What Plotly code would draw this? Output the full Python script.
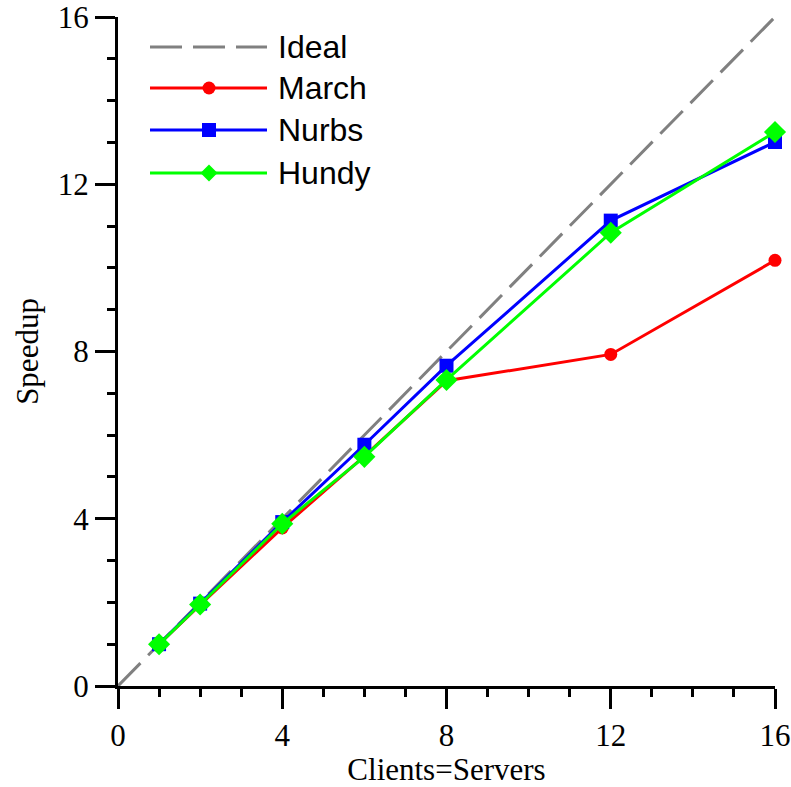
import plotly.graph_objects as go

clients = [1, 2, 4, 6, 8, 12, 16]
march = [1.0, 1.94, 3.78, 5.5, 7.3, 7.93, 10.18]
nurbs = [1.0, 1.97, 3.92, 5.77, 7.66, 11.13, 13.01]
hundy = [1.0, 1.95, 3.88, 5.48, 7.32, 10.84, 13.25]
ideal_x = [0, 16]
ideal_y = [0, 16]
series_names = ["Ideal", "March", "Nurbs", "Hundy"]
x_ticks = [0, 4, 8, 12, 16]
y_ticks = [0, 4, 8, 12, 16]

W, H = 791, 787
L, R, T, B = 118, 16, 17, 101
pw, ph = W - L - R, H - T - B

serif = "Liberation Serif"
sans = "Liberation Sans"

fig = go.Figure()
fig.add_trace(go.Scatter(x=ideal_x, y=ideal_y, mode="lines",
                         line=dict(color="#808080", width=3, dash="32px,11px"),
                         showlegend=False, cliponaxis=False))
fig.add_trace(go.Scatter(x=clients, y=march, mode="lines+markers",
                         line=dict(color="#ff0000", width=3),
                         marker=dict(symbol="circle", size=13, color="#ff0000"),
                         showlegend=False, cliponaxis=False))
fig.add_trace(go.Scatter(x=clients, y=nurbs, mode="lines+markers",
                         line=dict(color="#0000ff", width=3),
                         marker=dict(symbol="square", size=14, color="#0000ff"),
                         showlegend=False, cliponaxis=False))
fig.add_trace(go.Scatter(x=clients, y=hundy, mode="lines+markers",
                         line=dict(color="#00ff00", width=3),
                         marker=dict(symbol="diamond", size=17, color="#00ff00"),
                         showlegend=False, cliponaxis=False))

# custom legend (long sample lines like the reference); positions given in page pixels
def px_x(p):
    return (p - L) / pw

def px_y(p):
    return (H - B - p) / ph

rows = [47, 88, 130, 173]
colors = ["#808080", "#ff0000", "#0000ff", "#00ff00"]
shapes = []
annotations = []
lx0, lx1, mx, tx = px_x(150), px_x(267), px_x(209), px_x(276)
for i, (name, col, ry) in enumerate(zip(series_names, colors, rows)):
    yy = px_y(ry)
    shapes.append(dict(type="line", xref="paper", yref="paper", x0=lx0, x1=lx1, y0=yy, y1=yy,
                       line=dict(color=col, width=3, dash="32px,11px" if i == 0 else "solid")))
    if i == 1:
        shapes.append(dict(type="circle", xref="paper", yref="paper", xsizemode="pixel", ysizemode="pixel",
                           xanchor=mx, yanchor=yy, x0=-6.5, x1=6.5, y0=-6.5, y1=6.5,
                           fillcolor=col, line=dict(width=0)))
    elif i == 2:
        shapes.append(dict(type="rect", xref="paper", yref="paper", xsizemode="pixel", ysizemode="pixel",
                           xanchor=mx, yanchor=yy, x0=-7, x1=7, y0=-7, y1=7,
                           fillcolor=col, line=dict(width=0)))
    elif i == 3:
        shapes.append(dict(type="path", xref="paper", yref="paper", xsizemode="pixel", ysizemode="pixel",
                           xanchor=mx, yanchor=yy, path="M 0 8.5 L 8.5 0 L 0 -8.5 L -8.5 0 Z",
                           fillcolor=col, line=dict(width=0)))
    annotations.append(dict(xref="paper", yref="paper", x=tx, y=yy, text=name, showarrow=False,
                            xanchor="left", yanchor="middle",
                            font=dict(family=sans, size=32, color="black")))

axis_common = dict(
    showgrid=False, zeroline=False, showline=True, linecolor="black", linewidth=3,
    ticks="outside", ticklen=20, tickwidth=3, tickcolor="black",
    tickfont=dict(family=serif, size=31, color="black"),
    minor=dict(dtick=1, ticks="outside", ticklen=8, tickwidth=3, tickcolor="black", showgrid=False),
    automargin=False, ticklabeloverflow="allow",
)

fig.update_layout(
    width=W, height=H,
    margin=dict(l=L, r=R, t=T, b=B),
    paper_bgcolor="white", plot_bgcolor="white",
    xaxis=dict(range=[0, 16], tickvals=x_ticks, ticktext=[str(v) for v in x_ticks],
               title=dict(text="Clients=Servers", font=dict(family=serif, size=31, color="black"), standoff=8),
               **axis_common),
    yaxis=dict(range=[0, 16], tickvals=y_ticks, ticktext=[str(v) for v in y_ticks],
               title=dict(text="Speedup", font=dict(family=serif, size=31, color="black"), standoff=10),
               **axis_common),
    shapes=shapes, annotations=annotations,
    showlegend=False,
)

fig.write_html("out.html", config={"displayModeBar": False},
               post_script="document.body.style.margin='0px';document.body.style.overflow='hidden';")
